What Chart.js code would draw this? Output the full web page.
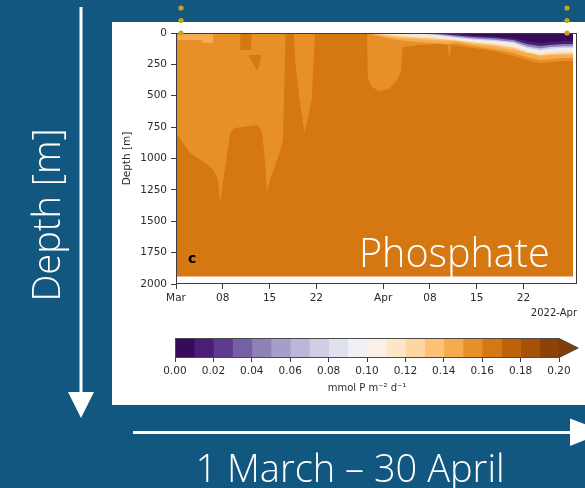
<!DOCTYPE html>
<html>
<head>
<meta charset="utf-8">
<script src="https://cdn.jsdelivr.net/npm/chart.js@4.4.0/dist/chart.umd.min.js"></script>
<style>
  html, body { margin: 0; padding: 0; }
  body { width: 585px; height: 488px; background: #12577f; position: relative; overflow: hidden; font-family: 'Open Sans', sans-serif; }
  #panel { position: absolute; left: 112px; top: 22px; width: 473px; height: 383px; background: #fff; }
  #main { position: absolute; left: 112px; top: 22px; }
  #cbar { position: absolute; left: 112px; top: 322px; }
  #deco { position: absolute; left: 0; top: 0; pointer-events: none; }
  .lbl { position: absolute; white-space: nowrap; }
  #phos { left: 359px; top: 233px; color: #fff; font-size: 39.5px; font-weight: 300; line-height: 39px; }
  #panelc { left: 188px; top: 250px; color: #000; font: bold 14px 'DejaVu Sans', sans-serif; }
</style>
</head>
<body>
<div id="panel"></div>
<canvas id="main" width="473" height="300"></canvas>
<canvas id="cbar" width="473" height="80"></canvas>
<div class="lbl" id="phos">Phosphate</div>
<div class="lbl" id="panelc">c</div>
<svg id="deco" width="585" height="488">
  <line x1="81" y1="7" x2="81" y2="394" stroke="#fff" stroke-width="3"/>
  <polygon points="68,392 94,392 81,418" fill="#fff"/>
  <line x1="133" y1="432.5" x2="574" y2="432.5" stroke="#fff" stroke-width="3"/>
  <polygon points="570,418.5 570,446 605,432" fill="#fff"/>
  <text transform="translate(60,215) rotate(-90)" text-anchor="middle" fill="#fff"
        font-family="Open Sans" font-weight="300" font-size="38">Depth [m]</text>
  <text x="350" y="482" text-anchor="middle" fill="#fff"
        font-family="Open Sans" font-weight="300" font-size="38">1 March – 30 April</text>
  <g fill="#c9a21c">
    <circle cx="181" cy="8" r="2.6"/><circle cx="181" cy="20.5" r="2.6"/><circle cx="181" cy="33" r="2.6"/>
    <circle cx="567" cy="8" r="2.6"/><circle cx="567" cy="20.5" r="2.6"/><circle cx="567" cy="33" r="2.6"/>
  </g>
</svg>

<script>
// days since 1 March 2022 on x, depth in metres on y
const X_TICK_DAYS = [0, 7, 14, 21, 31, 38, 45, 52];
const X_TICK_LABELS = ['Mar', '08', '15', '22', 'Apr', '08', '15', '22'];
const LEVELS = [0.00, 0.01, 0.02, 0.03, 0.04, 0.05, 0.06, 0.07, 0.08, 0.09, 0.10,
                0.11, 0.12, 0.13, 0.14, 0.15, 0.16, 0.17, 0.18, 0.19, 0.20];
const CBAR_TICKS = [0.00, 0.02, 0.04, 0.06, 0.08, 0.10, 0.12, 0.14, 0.16, 0.18, 0.20];

// whole record sits in the 0.16-0.17 bin
const BASE_DAYS = [0, 59.4];
const BASE_DEPTH = [1940, 1940];

// bottom of the 0.15-0.16 layer (lighter orange, hangs from the surface)
const L15_DAYS = [0, 2.1, 4.5, 5.6, 6.3, 6.6, 7.05, 8.1, 8.8, 12.3, 12.9, 13.3, 13.6, 14.05, 15.5, 16.0, 16.4,
                  17.6, 17.9, 18.5, 19.25, 20.3, 20.6, 20.8, 28.6, 28.7, 29.25, 30.45, 31.9, 33.1, 33.7, 33.9,
                  36.4, 39.4, 40.6, 40.9, 41.2, 44.5, 47.5, 50.5, 52.5, 54.5, 56, 58, 59.4];
const L15_DEPTH = [797, 956, 1040, 1092, 1171, 1355, 1187, 797, 757, 733, 797, 1012, 1267, 1171, 956, 853, 0,
                   0, 250, 534, 797, 534, 200, 0, 0, 360, 430, 462, 446, 375, 300, 112,
                   96, 88, 96, 199, 96, 120, 143, 183, 215, 239, 231, 223, 223];

// darker patches inside the upper layer
const RECT_DAYS = [9.6, 11.3];
const RECT_DEPTH = [135, 135];
const TRI_DAYS = [10.8, 12.2, 12.8];
const TRI_TOP = [175, 175, 175];
const TRI_BOTTOM = [175, 305, 175];

// thin 0.14-0.15 patch at the surface, early March
const LEFT14_DAYS = [0.2, 3.9, 4.0, 5.5, 5.6];
const LEFT14_DEPTH = [56, 56, 80, 80, 0];

// surface bands in April (bottom depth of each bin)
const R_DAYS = [29.5, 33, 36, 38.5, 40.5, 42, 44.5, 47.5, 50.5, 52.5, 54.5, 56, 58, 59.4];
const R14 = [16, 56, 72, 80, 88, 80, 104, 127, 159, 191, 215, 207, 199, 199];
const R13 = [8, 40, 48, 56, 64, 64, 88, 104, 135, 159, 183, 175, 175, 175];
const R11 = [0, 24, 36, 44, 52, 60, 76, 92, 115, 151, 175, 165, 160, 160];
const R9 = [0, 4, 14, 26, 40, 52, 66, 80, 100, 140, 160, 146, 140, 140];
const R7 = [0, 0, 4, 16, 28, 40, 53, 64, 80, 120, 139, 125, 120, 120];
const R4 = [0, 0, 2, 10, 20, 30, 44, 54, 70, 106, 124, 112, 106, 106];
const R1 = [0, 0, 0, 4, 12, 20, 32, 40, 56, 88, 104, 96, 88, 88];
const R0 = [0, 0, 0, 0, 4, 8, 20, 28, 40, 64, 80, 72, 64, 64];

// PuOr_r
const PUOR = ['#2d004b', '#542788', '#8073ac', '#b2abd2', '#d8daeb', '#f7f7f7',
              '#fee0b6', '#fdb863', '#e08214', '#b35806', '#7f3b08'];
const hex = h => [1, 3, 5].map(k => parseInt(h.substr(k, 2), 16));
function cmap(t) {
    const p = Math.min(Math.max(t, 0), 1) * (PUOR.length - 1);
    const i = Math.min(Math.floor(p), PUOR.length - 2);
    const f = p - i, a = hex(PUOR[i]), b = hex(PUOR[i + 1]);
    const c = a.map((v, k) => Math.round(v + (b[k] - v) * f));
    return `rgb(${c[0]},${c[1]},${c[2]})`;
}
const binColor = i => cmap((i + 0.5) / (LEVELS.length - 1));
const OVER_COLOR = cmap(1);

const tickFont = { family: 'DejaVu Sans', size: 10.5 };
const inkColor = '#2b2b2b';

const layer = (days, depth, color, order, fill = 'origin') => ({
    data: days.map((d, i) => ({ x: d, y: depth[i] })),
    backgroundColor: color,
    borderColor: 'transparent',
    borderWidth: 0,
    pointRadius: 0,
    tension: 0,
    fill,
    order
});

const frame = {
    id: 'frame',
    afterDraw(chart) {
        const { ctx, chartArea: a } = chart;
        ctx.save();
        ctx.strokeStyle = '#3a3a3a';
        ctx.lineWidth = 1;
        ctx.strokeRect(a.left + 0.5, a.top + 0.5, a.right - a.left - 1, a.bottom - a.top - 1);
        ctx.restore();
    }
};

new Chart(document.getElementById('main'), {
    type: 'line',
    data: {
        datasets: [
            layer(BASE_DAYS, BASE_DEPTH, binColor(16), 20),
            layer(L15_DAYS, L15_DEPTH, binColor(15), 19),
            layer(RECT_DAYS, RECT_DEPTH, binColor(16), 18),
            layer(TRI_DAYS, TRI_TOP, 'transparent', 17, false),
            layer(TRI_DAYS, TRI_BOTTOM, binColor(16), 16, '-1'),
            layer(LEFT14_DAYS, LEFT14_DEPTH, binColor(14), 15),
            layer(R_DAYS, R14, binColor(14), 14),
            layer(R_DAYS, R13, binColor(13), 13),
            layer(R_DAYS, R11, binColor(11), 12),
            layer(R_DAYS, R9, binColor(9), 11),
            layer(R_DAYS, R7, binColor(7), 10),
            layer(R_DAYS, R4, binColor(4), 9),
            layer(R_DAYS, R1, binColor(1), 8),
            layer(R_DAYS, R0, binColor(0), 7)
        ]
    },
    options: {
        responsive: false,
        animation: false,
        layout: { padding: { left: 0, right: 8, top: 11, bottom: 0 } },
        plugins: { legend: { display: false }, tooltip: { enabled: false } },
        scales: {
            x: {
                type: 'linear',
                min: 0,
                max: 60,
                afterBuildTicks: s => { s.ticks = X_TICK_DAYS.map(v => ({ value: v })); },
                afterFit: s => { s.height = 38; },
                ticks: {
                    autoSkip: false, maxRotation: 0, padding: 3,
                    font: tickFont, color: inkColor,
                    callback: v => X_TICK_LABELS[X_TICK_DAYS.indexOf(v)]
                },
                grid: { display: true, drawOnChartArea: false, tickLength: 5, color: '#3a3a3a' },
                border: { display: false },
                title: {
                    display: true, text: '2022-Apr', align: 'end',
                    font: { family: 'DejaVu Sans', size: 10 }, color: inkColor,
                    padding: { top: 0, bottom: 3 }
                }
            },
            y: {
                type: 'linear',
                reverse: true,
                min: 0,
                max: 2000,
                afterFit: s => { s.width = 64; },
                ticks: { stepSize: 250, padding: 4, font: tickFont, color: inkColor, callback: v => String(v) },
                grid: { display: true, drawOnChartArea: false, tickLength: 5, color: '#3a3a3a' },
                border: { display: false },
                title: {
                    display: true, text: 'Depth [m]',
                    font: { family: 'DejaVu Sans', size: 10.5 }, color: inkColor,
                    padding: { top: 9, bottom: 0 }
                }
            }
        }
    },
    plugins: [frame]
});

// colour bar with the "max" extension triangle
const cbarOutline = {
    id: 'cbarOutline',
    afterDraw(chart) {
        const { ctx, chartArea: a } = chart;
        const tip = a.right + (a.right - a.left) * 0.05;
        const mid = (a.top + a.bottom) / 2;
        ctx.save();
        ctx.fillStyle = OVER_COLOR;
        ctx.beginPath();
        ctx.moveTo(a.right - 0.5, a.top);
        ctx.lineTo(tip, mid);
        ctx.lineTo(a.right - 0.5, a.bottom);
        ctx.closePath();
        ctx.fill();
        ctx.strokeStyle = '#4a4a4a';
        ctx.lineWidth = 1;
        ctx.beginPath();
        ctx.moveTo(a.left + 0.5, a.top + 0.5);
        ctx.lineTo(a.right, a.top + 0.5);
        ctx.lineTo(tip, mid);
        ctx.lineTo(a.right, a.bottom - 0.5);
        ctx.lineTo(a.left + 0.5, a.bottom - 0.5);
        ctx.closePath();
        ctx.stroke();
        ctx.restore();
    }
};

new Chart(document.getElementById('cbar'), {
    type: 'bar',
    data: {
        labels: [''],
        datasets: LEVELS.slice(0, -1).map((lo, i) => ({
            data: [[lo, LEVELS[i + 1]]],
            backgroundColor: binColor(i),
            borderWidth: 0,
            barPercentage: 1,
            categoryPercentage: 1,
            grouped: false
        }))
    },
    options: {
        indexAxis: 'y',
        responsive: false,
        animation: false,
        layout: { padding: { left: 63, right: 26, top: 16, bottom: 0 } },
        plugins: { legend: { display: false }, tooltip: { enabled: false } },
        scales: {
            x: {
                type: 'linear',
                min: 0,
                max: 0.2,
                afterBuildTicks: s => { s.ticks = CBAR_TICKS.map(v => ({ value: v })); },
                afterFit: s => { s.height = 44; },
                ticks: {
                    autoSkip: false, maxRotation: 0, padding: 3,
                    font: tickFont, color: inkColor,
                    callback: v => v.toFixed(2)
                },
                grid: { display: true, drawOnChartArea: false, tickLength: 4, color: '#3a3a3a' },
                border: { display: false },
                title: {
                    display: true, text: 'mmol P m⁻² d⁻¹',
                    font: { family: 'DejaVu Sans', size: 10 }, color: inkColor,
                    padding: { top: 0, bottom: 8 }
                }
            },
            y: { display: false }
        }
    },
    plugins: [cbarOutline]
});
</script>
</body>
</html>
